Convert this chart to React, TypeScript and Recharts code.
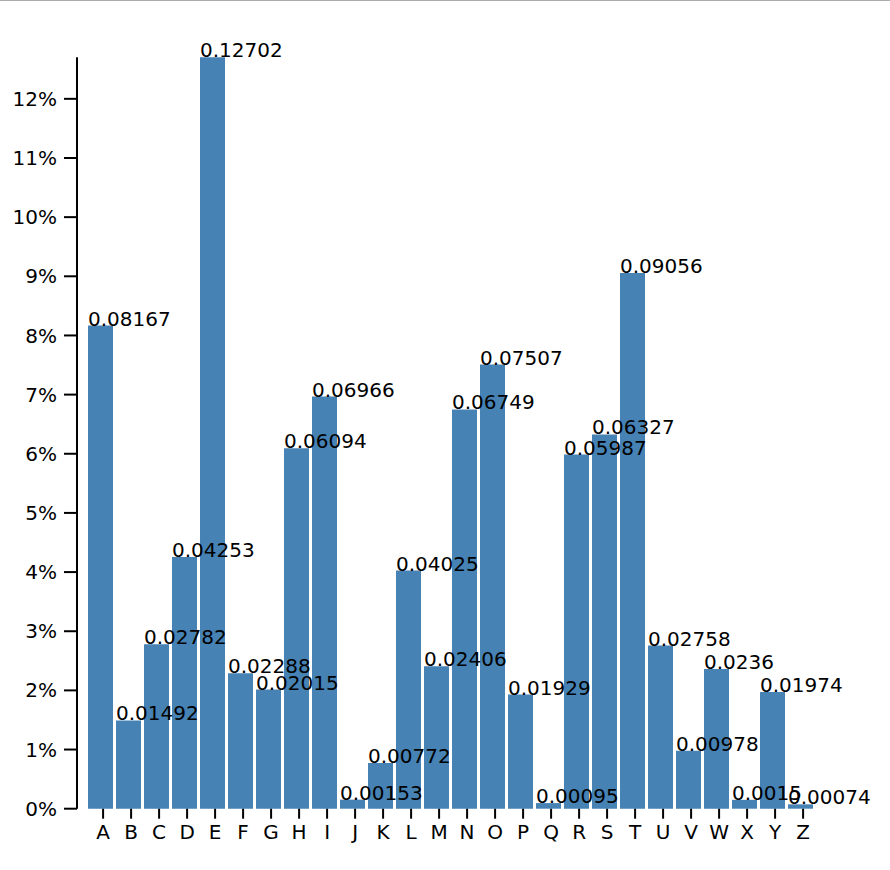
import React from 'react';
import { BarChart, Bar, XAxis, YAxis, LabelList } from 'recharts';

const letters = ['A', 'B', 'C', 'D', 'E', 'F', 'G', 'H', 'I', 'J', 'K', 'L', 'M', 'N', 'O', 'P', 'Q', 'R', 'S', 'T', 'U', 'V', 'W', 'X', 'Y', 'Z'];
const frequencies = [
  0.08167, 0.01492, 0.02782, 0.04253, 0.12702, 0.02288, 0.02015, 0.06094, 0.06966, 0.00153,
  0.00772, 0.04025, 0.02406, 0.06749, 0.07507, 0.01929, 0.00095, 0.05987, 0.06327, 0.09056,
  0.02758, 0.00978, 0.0236, 0.0015, 0.01974, 0.00074,
];
const yTicks = [0, 0.01, 0.02, 0.03, 0.04, 0.05, 0.06, 0.07, 0.08, 0.09, 0.1, 0.11, 0.12];

const data = letters.map((letter, i) => ({ letter, frequency: frequencies[i] }));

const FONT = '"DejaVu Sans", sans-serif';

// x ticks sit a little to the right of the bar centres in the original
const LetterTick = (props: any) => {
  const { x, y, payload } = props;
  const tx = x + 2.5;
  return (
    <g>
      <line x1={tx} x2={tx} y1={y - 16} y2={y - 6} stroke="#000" strokeWidth={2} />
      <text x={tx} y={y} dy="0.71em" textAnchor="middle" fontSize={20} fontFamily={FONT} fill="#000">
        {payload.value}
      </text>
    </g>
  );
};

const ValueLabel = (props: any) => {
  const { x, y, value } = props;
  return (
    <text x={x} y={y} textAnchor="start" fontSize={20} fontFamily={FONT} fill="#000">
      {String(value)}
    </text>
  );
};

export default function App() {
  return (
    <div style={{ position: 'absolute', left: 0, top: 0, width: 890, height: 870, background: '#fff', borderTop: '1px solid #ababab', boxSizing: 'border-box' }}>
      <BarChart
        width={890}
        height={869}
        data={data}
        margin={{ top: 56.3, right: 75.4, bottom: 31.3, left: 0 }}
        barCategoryGap={1.4}
      >
        <XAxis
          dataKey="letter"
          axisLine={false}
          tickLine={false}
          tickSize={10}
          tickMargin={6}
          height={30}
          interval={0}
          padding={{ left: 9.6, right: 0 }}
          tick={<LetterTick />}
        />
        <YAxis
          width={77}
          domain={[0, 0.12702]}
          ticks={yTicks}
          tickFormatter={(v: number) => `${Math.round(v * 100)}%`}
          axisLine={{ stroke: '#000', strokeWidth: 2 }}
          tickLine={{ stroke: '#000', strokeWidth: 2 }}
          tickSize={13}
          tickMargin={7}
          tick={{ fill: '#000', fontSize: 20, fontFamily: FONT }}
        />
        <Bar dataKey="frequency" fill="#4682b4" isAnimationActive={false}>
          <LabelList dataKey="frequency" content={<ValueLabel />} />
        </Bar>
      </BarChart>
    </div>
  );
}
